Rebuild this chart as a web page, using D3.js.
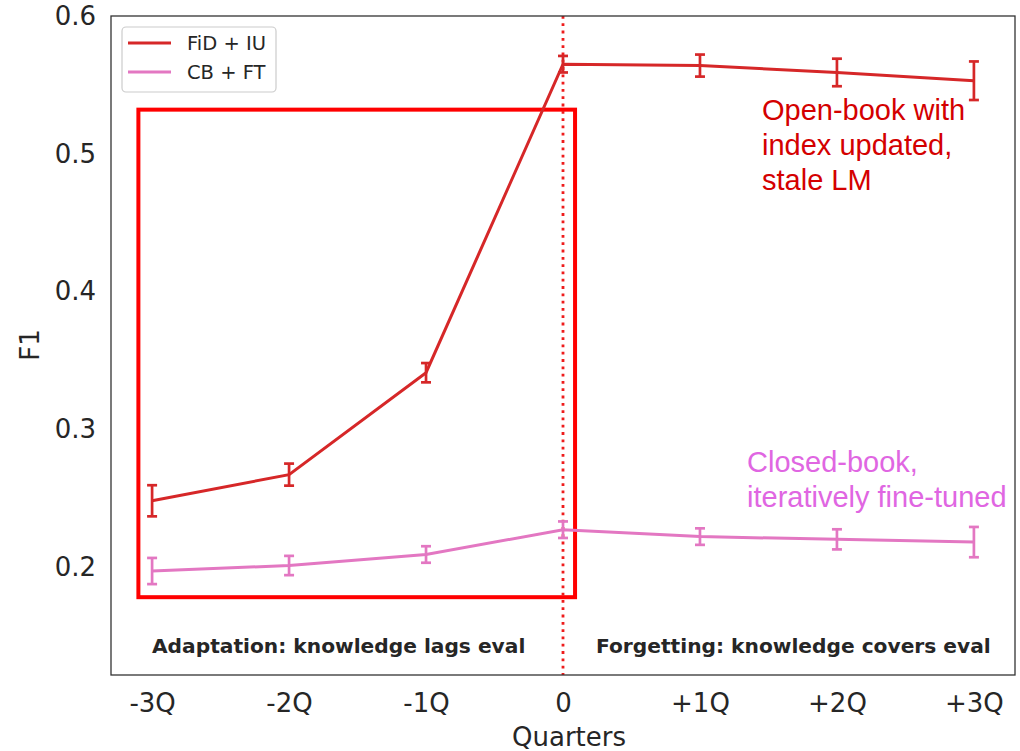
<!DOCTYPE html>
<html>
<head>
<meta charset="utf-8">
<script src="https://cdn.jsdelivr.net/npm/d3@7"></script>
<style>
  html, body { margin: 0; padding: 0; background: #fff; }
  svg { display: block; }
</style>
</head>
<body>
<svg id="chart" width="1020" height="751"></svg>
<script>
// ---- data ----
const quarters = [-3, -2, -1, 0, 1, 2, 3];
const tickLabels = ["-3Q", "-2Q", "-1Q", "0", "+1Q", "+2Q", "+3Q"];
const fidValues = [0.248, 0.267, 0.341, 0.565, 0.564, 0.559, 0.553];
const fidErrors = [0.0113, 0.008, 0.007, 0.006, 0.008, 0.010, 0.014];
const cbValues = [0.197, 0.201, 0.209, 0.227, 0.222, 0.220, 0.218];
const cbErrors = [0.0095, 0.007, 0.006, 0.006, 0.006, 0.0073, 0.011];
const yTicks = [0.2, 0.3, 0.4, 0.5, 0.6];
const seriesNames = ["FiD + IU", "CB + FT"];
const seriesColors = ["#d62728", "#e377c2"];

// ---- layout ----
const svg = d3.select("#chart");
const plot = { left: 111, right: 1015, top: 16, bottom: 675 };
const x = d3.scaleLinear().domain([-3.3, 3.3]).range([plot.left, plot.right]);
const y = d3.scaleLinear().domain([0.1215, 0.6]).range([plot.bottom, plot.top]);
const textColor = "#262626";

// red box (in data units)
svg.append("rect")
  .attr("x", x(-3.1)).attr("y", y(0.532))
  .attr("width", x(0.088) - x(-3.1)).attr("height", y(0.178) - y(0.532))
  .attr("fill", "none").attr("stroke", "#ff0000").attr("stroke-width", 4);

// dotted vertical line at 0
svg.append("line")
  .attr("x1", x(0)).attr("x2", x(0)).attr("y1", plot.top).attr("y2", plot.bottom)
  .attr("stroke", "#ee1c1c").attr("stroke-width", 2.8).attr("stroke-dasharray", "2.8,4.5");

// series
const series = [
  { name: seriesNames[0], color: seriesColors[0], values: fidValues, errors: fidErrors },
  { name: seriesNames[1], color: seriesColors[1], values: cbValues, errors: cbErrors }
];
const line = d3.line().x(d => x(d.q)).y(d => y(d.v));
series.forEach(s => {
  const pts = quarters.map((q, i) => ({ q, v: s.values[i], e: s.errors[i] }));
  svg.append("path").datum(pts).attr("d", line)
    .attr("fill", "none").attr("stroke", s.color).attr("stroke-width", 3);
  const g = svg.append("g").attr("stroke", s.color).attr("stroke-width", 2.7);
  pts.forEach(p => {
    const cx = x(p.q), y1 = y(p.v - p.e), y2 = y(p.v + p.e);
    g.append("line").attr("x1", cx).attr("x2", cx).attr("y1", y1).attr("y2", y2);
    g.append("line").attr("x1", cx - 5).attr("x2", cx + 5).attr("y1", y1).attr("y2", y1);
    g.append("line").attr("x1", cx - 5).attr("x2", cx + 5).attr("y1", y2).attr("y2", y2);
  });
});

// frame
svg.append("rect")
  .attr("x", plot.left).attr("y", plot.top)
  .attr("width", plot.right - plot.left).attr("height", plot.bottom - plot.top)
  .attr("fill", "none").attr("stroke", "#333").attr("stroke-width", 1.3);

// axes
const xAxis = d3.axisBottom(x).tickValues(quarters).tickFormat((d, i) => tickLabels[i]).tickSize(0).tickPadding(19);
const gx = svg.append("g").attr("transform", `translate(0,${plot.bottom})`).call(xAxis);
gx.select(".domain").remove();
gx.selectAll("text").attr("font-family", "DejaVu Sans").attr("font-size", 26).attr("fill", textColor);

const yAxis = d3.axisLeft(y).tickValues(yTicks).tickFormat(d3.format(".1f")).tickSize(0).tickPadding(15);
const gy = svg.append("g").attr("transform", `translate(${plot.left},0)`).call(yAxis);
gy.select(".domain").remove();
gy.selectAll("text").attr("font-family", "DejaVu Sans").attr("font-size", 26).attr("fill", textColor);

// axis titles
svg.append("text").attr("x", (plot.left + plot.right) / 2 + 6).attr("y", 746)
  .attr("text-anchor", "middle").attr("font-family", "DejaVu Sans").attr("font-size", 26)
  .attr("fill", textColor).text("Quarters");
svg.append("text").attr("transform", "translate(39,345) rotate(-90)")
  .attr("text-anchor", "middle").attr("font-family", "DejaVu Sans").attr("font-size", 26)
  .attr("fill", textColor).text("F1");

// region labels
svg.append("text").attr("x", 152).attr("y", 653)
  .attr("font-family", "DejaVu Sans").attr("font-weight", "bold").attr("font-size", 20.2)
  .attr("fill", textColor).text("Adaptation: knowledge lags eval");
svg.append("text").attr("x", 596).attr("y", 653)
  .attr("font-family", "DejaVu Sans").attr("font-weight", "bold").attr("font-size", 20.2)
  .attr("fill", textColor).text("Forgetting: knowledge covers eval");

// annotations
const openLines = ["Open-book with", "index updated,", "stale LM"];
svg.append("g").selectAll("text").data(openLines).join("text")
  .attr("x", 762).attr("y", (d, i) => 120 + i * 35)
  .attr("font-family", "Liberation Sans, Arial, sans-serif").attr("font-size", 29)
  .attr("fill", "#d40000").text(d => d);
const closedLines = ["Closed-book,", "iteratively fine-tuned"];
svg.append("g").selectAll("text").data(closedLines).join("text")
  .attr("x", 747).attr("y", (d, i) => 472 + i * 35)
  .attr("font-family", "Liberation Sans, Arial, sans-serif").attr("font-size", 29)
  .attr("fill", "#e066e2").text(d => d);

// legend
const lg = svg.append("g");
lg.append("rect").attr("x", 122).attr("y", 27).attr("width", 154).attr("height", 65)
  .attr("rx", 4).attr("fill", "#fff").attr("stroke", "#cccccc").attr("stroke-width", 1.2);
series.forEach((s, i) => {
  const ly = 43 + i * 29;
  lg.append("line").attr("x1", 128).attr("x2", 171).attr("y1", ly).attr("y2", ly)
    .attr("stroke", s.color).attr("stroke-width", 3);
  lg.append("text").attr("x", 187).attr("y", ly + 7)
    .attr("font-family", "DejaVu Sans").attr("font-size", 19.5).attr("fill", textColor).text(s.name);
});
</script>
</body>
</html>
